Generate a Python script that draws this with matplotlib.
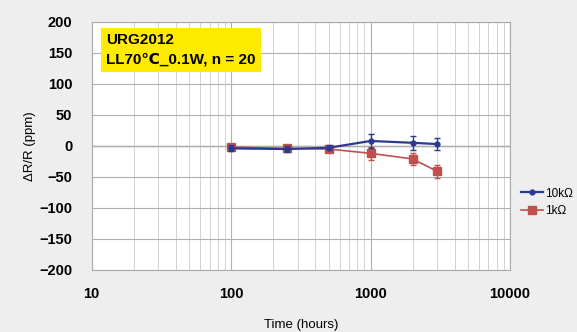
import matplotlib.pyplot as plt
from matplotlib.lines import Line2D
import numpy as np

plt.rcParams['font.family'] = ['Liberation Sans', 'DejaVu Sans']

# Data.
hours = [100, 250, 500, 1000, 2000, 3000]
r10k = [-4, -5, -3, 8, 5, 3]
r10k_err = [5, 5, 4, 12, 11, 10]
r1k = [-2, -4, -5, -12, -21, -41]
r1k_err = [4, 4, 5, 10, 9, 11]

fig = plt.figure(figsize=(5.77, 3.32), dpi=100, facecolor='#eeeeee')
ax = fig.add_axes([0.159, 0.187, 0.725, 0.747])
ax.set_facecolor('white')

blue = '#2b3990'
red = '#c0504d'
ax.errorbar(hours, r10k, yerr=r10k_err, color=blue, marker='o', ms=3.5,
            lw=1.6, capsize=2.5, elinewidth=1, zorder=4)
ax.errorbar(hours, r1k, yerr=r1k_err, color=red, marker='s', ms=6,
            lw=1.2, capsize=2.5, elinewidth=1, zorder=3)

ax.set_xscale('log')
ax.set_xlim(10, 10000)
ax.set_ylim(-200, 200)
ax.set_yticks(np.arange(-200, 201, 50))
ax.set_xticks([10, 100, 1000, 10000])
ax.set_xticklabels(['10', '100', '1000', '10000'])
ax.grid(which='major', color='#b0b0b0', lw=0.8)
ax.grid(which='minor', axis='x', color='#cccccc', lw=0.6)
ax.axhline(0, color='#909090', lw=1.0, zorder=1)
ax.tick_params(which='both', length=0, labelsize=10.5)
ax.tick_params(axis='y', pad=14)
ax.tick_params(axis='x', pad=12)
for lab in ax.get_xticklabels() + ax.get_yticklabels():
    lab.set_fontweight('bold')
for s in ax.spines.values():
    s.set_color('#aaaaaa')

ax.set_xlabel('Time (hours)', fontsize=9.5, labelpad=13)
ax.set_ylabel('\u0394R/R (ppm)', fontsize=9.5, labelpad=2)

ax.text(0.035, 0.955, 'URG2012\nLL70\u2103_0.1W, n = 20', transform=ax.transAxes,
        va='top', ha='left', fontsize=11, fontweight='bold', linespacing=1.5,
        bbox=dict(boxstyle='square,pad=0.35', fc='#ffeb00', ec='none'))

handles = [Line2D([], [], color=blue, marker='o', ms=3.5, lw=1.6),
           Line2D([], [], color=red, marker='s', ms=6, lw=1.2)]
fig.legend(handles, ['10k\u03a9', '1k\u03a9'], loc='center left',
           bbox_to_anchor=(0.885, 0.39), frameon=False, fontsize=8.5,
           handlelength=1.8, handletextpad=0.2, labelspacing=0.5)

fig.savefig('out.png', dpi=100, facecolor=fig.get_facecolor())
